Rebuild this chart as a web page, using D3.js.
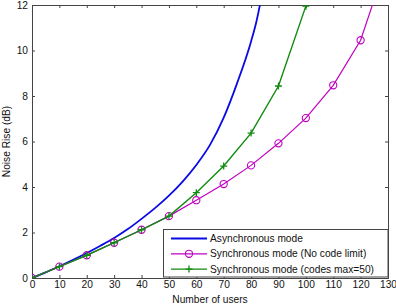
<!DOCTYPE html>
<html>
<head>
<meta charset="utf-8">
<script src="https://cdn.jsdelivr.net/npm/d3@7"></script>
<style>
  body { margin: 0; background: #fff; }
  svg { display: block; font-family: "Liberation Sans", Arial, sans-serif; }
</style>
</head>
<body>
<div id="chart"></div>
<script>
const width = 396;
const height = 306;

// values
const asyncUsers = [0, 5, 10, 15, 20, 25, 30, 35, 40, 45, 50, 55, 60, 65, 70, 75, 80, 82, 84, 86];
const asyncNoise = [0, 0.25, 0.52, 0.8, 1.1, 1.42, 1.76, 2.15, 2.6, 3.08, 3.62, 4.24, 4.97, 5.85, 7.05, 8.6, 10.4, 11.3, 12.5, 14.0];

const syncUsers = [0, 10, 20, 30, 40, 50, 60, 70, 80, 90, 100, 110, 120, 130];
const syncNoise = [0, 0.5, 1.0, 1.55, 2.12, 2.72, 3.42, 4.13, 4.95, 5.92, 7.03, 8.47, 10.45, 14.05];

const capUsers = [0, 10, 20, 30, 40, 50, 60, 70, 80, 90, 100];
const capNoise = [0, 0.5, 1.0, 1.55, 2.12, 2.72, 3.75, 4.92, 6.37, 8.44, 11.95];

const xTicks = d3.range(0, 131, 10);
const yTicks = d3.range(0, 13, 2);

const legendLabels = [
  "Asynchronous mode",
  "Synchronous mode (No code limit)",
  "Synchronous mode (codes max=50)"
];

const margin = {left: 32, right: 8, top: 5, bottom: 28};
const fontSize = "10.2px";

const x = d3.scaleLinear().domain([0, 130]).range([margin.left, width - margin.right]);
const y = d3.scaleLinear().domain([0, 12]).range([height - margin.bottom, margin.top]);

const svg = d3.select("#chart").append("svg")
  .attr("width", width)
  .attr("height", height);

svg.append("defs").append("clipPath").attr("id", "plotclip")
  .append("rect")
  .attr("x", x(0)).attr("y", y(12))
  .attr("width", x(130) - x(0)).attr("height", y(0) - y(12));

const axisColor = "#444";

// axes with inward ticks, mirrored on top and right
const xAxis = svg.append("g")
  .attr("transform", `translate(0,${y(0)})`)
  .call(d3.axisBottom(x).tickValues(xTicks).tickSize(-3).tickPadding(3));
const yAxis = svg.append("g")
  .attr("transform", `translate(${x(0)},0)`)
  .call(d3.axisLeft(y).tickValues(yTicks).tickSize(-3).tickPadding(4));
const xTop = svg.append("g")
  .attr("transform", `translate(0,${y(12)})`)
  .call(d3.axisTop(x).tickValues(xTicks).tickSize(-3).tickFormat(""));
const yRight = svg.append("g")
  .attr("transform", `translate(${x(130)},0)`)
  .call(d3.axisRight(y).tickValues(yTicks).tickSize(-3).tickFormat(""));

[xAxis, yAxis, xTop, yRight].forEach(g => {
  g.select(".domain").attr("stroke", axisColor);
  g.selectAll(".tick line").attr("stroke", axisColor);
  g.selectAll("text")
    .attr("fill", "#111")
    .style("font-size", fontSize)
    .style("font-family", "'Liberation Sans', Arial, sans-serif");
});

svg.append("text")
  .attr("x", (x(0) + x(130)) / 2)
  .attr("y", 303)
  .attr("text-anchor", "middle")
  .style("font-size", fontSize)
  .attr("fill", "#111")
  .text("Number of users");

svg.append("text")
  .attr("transform", `translate(10,${(y(0) + y(12)) / 2}) rotate(-90)`)
  .attr("text-anchor", "middle")
  .style("font-size", fontSize)
  .attr("fill", "#111")
  .text("Noise Rise (dB)");

const plot = svg.append("g").attr("clip-path", "url(#plotclip)");

const line = d3.line().x(d => x(d[0])).y(d => y(d[1]));

const blue = "#0a0ae6";
const magenta = "#c000c0";
const green = "#108a10";

plot.append("path")
  .datum(d3.zip(asyncUsers, asyncNoise))
  .attr("d", line.curve(d3.curveMonotoneX))
  .attr("fill", "none")
  .attr("stroke", blue)
  .attr("stroke-width", 1.8);

const syncPts = d3.zip(syncUsers, syncNoise);
plot.append("path")
  .datum(syncPts)
  .attr("d", line.curve(d3.curveLinear))
  .attr("fill", "none")
  .attr("stroke", magenta)
  .attr("stroke-width", 1.2);
plot.selectAll("circle.sync")
  .data(syncPts)
  .enter().append("circle")
  .attr("class", "sync")
  .attr("cx", d => x(d[0]))
  .attr("cy", d => y(d[1]))
  .attr("r", 3.6)
  .attr("fill", "none")
  .attr("stroke", magenta)
  .attr("stroke-width", 1.1);

const capPts = d3.zip(capUsers, capNoise);
plot.append("path")
  .datum(capPts)
  .attr("d", line.curve(d3.curveLinear))
  .attr("fill", "none")
  .attr("stroke", green)
  .attr("stroke-width", 1.4);
plot.selectAll("path.cap")
  .data(capPts)
  .enter().append("path")
  .attr("class", "cap")
  .attr("d", d => `M${x(d[0]) - 3.5},${y(d[1])}h7M${x(d[0])},${y(d[1]) - 3.5}v7`)
  .attr("stroke", green)
  .attr("stroke-width", 1.3);

// legend
const legend = svg.append("g");
legend.append("rect")
  .attr("x", 163.5).attr("y", 229.5)
  .attr("width", x(130) - 163.5).attr("height", y(0) - 229.5 - 1)
  .attr("fill", "#fff")
  .attr("stroke", axisColor);

const legendColors = [blue, magenta, green];
legendLabels.forEach((label, i) => {
  const ly = 238.5 + i * 15.3;
  legend.append("line")
    .attr("x1", 171).attr("x2", 207)
    .attr("y1", ly).attr("y2", ly)
    .attr("stroke", legendColors[i])
    .attr("stroke-width", i === 0 ? 1.8 : 1.3);
  if (i === 1) {
    legend.append("circle").attr("cx", 189).attr("cy", ly).attr("r", 3.6)
      .attr("fill", "none").attr("stroke", magenta).attr("stroke-width", 1.1);
  }
  if (i === 2) {
    legend.append("path")
      .attr("d", `M185.5,${ly}h7M189,${ly - 3.5}v7`)
      .attr("stroke", green).attr("stroke-width", 1.3);
  }
  legend.append("text")
    .attr("x", 210).attr("y", ly + 3.5)
    .style("font-size", fontSize)
    .attr("fill", "#111")
    .text(label);
});
</script>
</body>
</html>
